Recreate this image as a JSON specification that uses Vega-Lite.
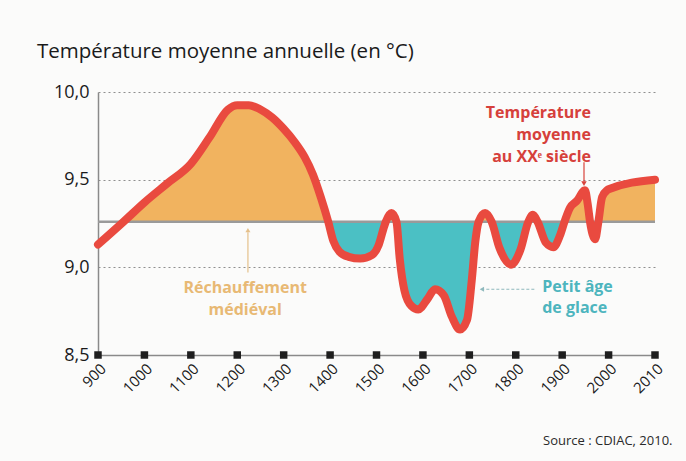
{
  "$schema": "https://vega.github.io/schema/vega-lite/v6.json",
  "width": 557,
  "height": 263,
  "autosize": {"type": "none"},
  "padding": {"left": 98, "top": 92, "right": 31, "bottom": 106},
  "background": "#fbfbfa",
  "title": {
    "text": "Température moyenne annuelle (en °C)",
    "anchor": "start",
    "frame": "group",
    "dx": -61,
    "offset": 21,
    "font": "Open Sans",
    "fontSize": 20.5,
    "fontWeight": "normal",
    "color": "#1a1a1a"
  },
  "config": {
    "view": {"stroke": null},
    "font": "Open Sans"
  },
  "datasets": {
    "curve": [
      {"year": 900, "temp": 9.13}, {"year": 955, "temp": 9.26}, {"year": 1000, "temp": 9.37},
      {"year": 1050, "temp": 9.48}, {"year": 1100, "temp": 9.59}, {"year": 1140, "temp": 9.74},
      {"year": 1180, "temp": 9.9}, {"year": 1200, "temp": 9.925}, {"year": 1225, "temp": 9.925},
      {"year": 1250, "temp": 9.9}, {"year": 1275, "temp": 9.855}, {"year": 1300, "temp": 9.79},
      {"year": 1325, "temp": 9.71}, {"year": 1345, "temp": 9.63}, {"year": 1363, "temp": 9.53},
      {"year": 1380, "temp": 9.4}, {"year": 1396, "temp": 9.26}, {"year": 1407, "temp": 9.15},
      {"year": 1420, "temp": 9.09}, {"year": 1440, "temp": 9.06}, {"year": 1465, "temp": 9.05},
      {"year": 1490, "temp": 9.07}, {"year": 1505, "temp": 9.13}, {"year": 1515, "temp": 9.22},
      {"year": 1520, "temp": 9.26}, {"year": 1532, "temp": 9.31}, {"year": 1543, "temp": 9.26},
      {"year": 1550, "temp": 9.05}, {"year": 1560, "temp": 8.87}, {"year": 1575, "temp": 8.78},
      {"year": 1590, "temp": 8.76}, {"year": 1610, "temp": 8.82}, {"year": 1626, "temp": 8.875},
      {"year": 1645, "temp": 8.84}, {"year": 1662, "temp": 8.72}, {"year": 1680, "temp": 8.645},
      {"year": 1695, "temp": 8.7}, {"year": 1705, "temp": 8.92}, {"year": 1713, "temp": 9.15},
      {"year": 1720, "temp": 9.26}, {"year": 1734, "temp": 9.31}, {"year": 1748, "temp": 9.26},
      {"year": 1765, "temp": 9.11}, {"year": 1790, "temp": 9.015}, {"year": 1810, "temp": 9.1},
      {"year": 1827, "temp": 9.26}, {"year": 1837, "temp": 9.3}, {"year": 1847, "temp": 9.26},
      {"year": 1865, "temp": 9.14}, {"year": 1881, "temp": 9.115}, {"year": 1895, "temp": 9.18},
      {"year": 1905, "temp": 9.26}, {"year": 1917, "temp": 9.34}, {"year": 1932, "temp": 9.38},
      {"year": 1949, "temp": 9.44}, {"year": 1955, "temp": 9.36}, {"year": 1960, "temp": 9.26},
      {"year": 1971, "temp": 9.16}, {"year": 1978, "temp": 9.26}, {"year": 1986, "temp": 9.4},
      {"year": 1997, "temp": 9.44}, {"year": 2000, "temp": 9.445}, {"year": 2010, "temp": 9.5}
    ],
    "fill": [
      {"seg": 1, "phase": "chaud", "year": 955, "temp": 9.26}, {"seg": 1, "phase": "chaud", "year": 1000, "temp": 9.37},
      {"seg": 1, "phase": "chaud", "year": 1050, "temp": 9.48}, {"seg": 1, "phase": "chaud", "year": 1100, "temp": 9.59},
      {"seg": 1, "phase": "chaud", "year": 1140, "temp": 9.74}, {"seg": 1, "phase": "chaud", "year": 1180, "temp": 9.9},
      {"seg": 1, "phase": "chaud", "year": 1200, "temp": 9.925}, {"seg": 1, "phase": "chaud", "year": 1225, "temp": 9.925},
      {"seg": 1, "phase": "chaud", "year": 1250, "temp": 9.9}, {"seg": 1, "phase": "chaud", "year": 1275, "temp": 9.855},
      {"seg": 1, "phase": "chaud", "year": 1300, "temp": 9.79}, {"seg": 1, "phase": "chaud", "year": 1325, "temp": 9.71},
      {"seg": 1, "phase": "chaud", "year": 1345, "temp": 9.63}, {"seg": 1, "phase": "chaud", "year": 1363, "temp": 9.53},
      {"seg": 1, "phase": "chaud", "year": 1380, "temp": 9.4}, {"seg": 1, "phase": "chaud", "year": 1396, "temp": 9.26},
      {"seg": 2, "phase": "froid", "year": 1396, "temp": 9.26}, {"seg": 2, "phase": "froid", "year": 1407, "temp": 9.15},
      {"seg": 2, "phase": "froid", "year": 1420, "temp": 9.09}, {"seg": 2, "phase": "froid", "year": 1440, "temp": 9.06},
      {"seg": 2, "phase": "froid", "year": 1465, "temp": 9.05}, {"seg": 2, "phase": "froid", "year": 1490, "temp": 9.07},
      {"seg": 2, "phase": "froid", "year": 1505, "temp": 9.13}, {"seg": 2, "phase": "froid", "year": 1515, "temp": 9.22},
      {"seg": 2, "phase": "froid", "year": 1520, "temp": 9.26},
      {"seg": 3, "phase": "chaud", "year": 1520, "temp": 9.26}, {"seg": 3, "phase": "chaud", "year": 1532, "temp": 9.31},
      {"seg": 3, "phase": "chaud", "year": 1543, "temp": 9.26},
      {"seg": 4, "phase": "froid", "year": 1543, "temp": 9.26}, {"seg": 4, "phase": "froid", "year": 1550, "temp": 9.05},
      {"seg": 4, "phase": "froid", "year": 1560, "temp": 8.87}, {"seg": 4, "phase": "froid", "year": 1575, "temp": 8.78},
      {"seg": 4, "phase": "froid", "year": 1590, "temp": 8.76}, {"seg": 4, "phase": "froid", "year": 1610, "temp": 8.82},
      {"seg": 4, "phase": "froid", "year": 1626, "temp": 8.875}, {"seg": 4, "phase": "froid", "year": 1645, "temp": 8.84},
      {"seg": 4, "phase": "froid", "year": 1662, "temp": 8.72}, {"seg": 4, "phase": "froid", "year": 1680, "temp": 8.645},
      {"seg": 4, "phase": "froid", "year": 1695, "temp": 8.7}, {"seg": 4, "phase": "froid", "year": 1705, "temp": 8.92},
      {"seg": 4, "phase": "froid", "year": 1713, "temp": 9.15}, {"seg": 4, "phase": "froid", "year": 1720, "temp": 9.26},
      {"seg": 5, "phase": "chaud", "year": 1720, "temp": 9.26}, {"seg": 5, "phase": "chaud", "year": 1734, "temp": 9.31},
      {"seg": 5, "phase": "chaud", "year": 1748, "temp": 9.26},
      {"seg": 6, "phase": "froid", "year": 1748, "temp": 9.26}, {"seg": 6, "phase": "froid", "year": 1765, "temp": 9.11},
      {"seg": 6, "phase": "froid", "year": 1790, "temp": 9.015}, {"seg": 6, "phase": "froid", "year": 1810, "temp": 9.1},
      {"seg": 6, "phase": "froid", "year": 1827, "temp": 9.26},
      {"seg": 7, "phase": "chaud", "year": 1827, "temp": 9.26}, {"seg": 7, "phase": "chaud", "year": 1837, "temp": 9.3},
      {"seg": 7, "phase": "chaud", "year": 1847, "temp": 9.26},
      {"seg": 8, "phase": "froid", "year": 1847, "temp": 9.26}, {"seg": 8, "phase": "froid", "year": 1865, "temp": 9.14},
      {"seg": 8, "phase": "froid", "year": 1881, "temp": 9.115}, {"seg": 8, "phase": "froid", "year": 1895, "temp": 9.18},
      {"seg": 8, "phase": "froid", "year": 1905, "temp": 9.26},
      {"seg": 9, "phase": "chaud", "year": 1905, "temp": 9.26}, {"seg": 9, "phase": "chaud", "year": 1917, "temp": 9.34},
      {"seg": 9, "phase": "chaud", "year": 1932, "temp": 9.38}, {"seg": 9, "phase": "chaud", "year": 1949, "temp": 9.44},
      {"seg": 9, "phase": "chaud", "year": 1955, "temp": 9.36}, {"seg": 9, "phase": "chaud", "year": 1960, "temp": 9.26},
      {"seg": 10, "phase": "froid", "year": 1960, "temp": 9.26}, {"seg": 10, "phase": "froid", "year": 1971, "temp": 9.16},
      {"seg": 10, "phase": "froid", "year": 1978, "temp": 9.26},
      {"seg": 11, "phase": "chaud", "year": 1978, "temp": 9.26}, {"seg": 11, "phase": "chaud", "year": 1986, "temp": 9.4},
      {"seg": 11, "phase": "chaud", "year": 1997, "temp": 9.44}, {"seg": 11, "phase": "chaud", "year": 2000, "temp": 9.445},
      {"seg": 11, "phase": "chaud", "year": 2010, "temp": 9.5}
    ],
    "years": [
      {"year": 900, "temp": 8.5}, {"year": 1000, "temp": 8.5}, {"year": 1100, "temp": 8.5}, {"year": 1200, "temp": 8.5},
      {"year": 1300, "temp": 8.5}, {"year": 1400, "temp": 8.5}, {"year": 1500, "temp": 8.5}, {"year": 1600, "temp": 8.5},
      {"year": 1700, "temp": 8.5}, {"year": 1800, "temp": 8.5}, {"year": 1900, "temp": 8.5}, {"year": 2000, "temp": 8.5},
      {"year": 2010, "temp": 8.5}
    ],
    "mean": [{"temp": 9.26}],
    "labels": [
      {"label": "Température", "year": 1962, "temp": 9.879, "group": "rouge"},
      {"label": "moyenne", "year": 1962, "temp": 9.753, "group": "rouge"},
      {"label": "au XXᵉ siècle", "year": 1962, "temp": 9.628, "group": "rouge"},
      {"label": "Réchauffement", "year": 1217, "temp": 8.88, "group": "orange"},
      {"label": "médiéval", "year": 1217, "temp": 8.755, "group": "orange"},
      {"label": "Petit âge", "year": 1857, "temp": 8.89, "group": "bleu"},
      {"label": "de glace", "year": 1857, "temp": 8.77, "group": "bleu"}
    ],
    "arrows": [
      {"group": "rouge", "year": 1947, "year2": 1947, "temp": 9.6, "temp2": 9.49},
      {"group": "orange", "year": 1223, "year2": 1223, "temp": 8.97, "temp2": 9.2},
      {"group": "bleu", "year": 1840, "year2": 1732, "temp": 8.875, "temp2": 8.875}
    ],
    "heads": [
      {"group": "rouge", "year": 1947, "temp": 9.478},
      {"group": "orange", "year": 1223, "temp": 9.212},
      {"group": "bleu", "year": 1727, "temp": 8.875}
    ]
  },
  "encoding": {
    "x": {
      "field": "year",
      "type": "quantitative",
      "scale": {"domain": [900, 2000, 2010], "range": [0, 510.6, 557], "nice": false, "zero": false},
      "axis": {
        "values": [900, 1000, 1100, 1200, 1300, 1400, 1500, 1600, 1700, 1800, 1900, 2000, 2010],
        "format": "d",
        "labelAngle": -45,
        "labelPadding": 6,
        "labelFontSize": 15,
        "labelColor": "#1a1a1a",
        "labelFont": "Open Sans",
        "labelOverlap": false,
        "labelFlush": false,
        "ticks": false,
        "grid": false,
        "domainColor": "#8a8a8a",
        "domainWidth": 1.5,
        "title": "Source : CDIAC, 2010.",
        "titleFont": "Open Sans",
        "titleFontSize": 13,
        "titleFontWeight": "normal",
        "titleColor": "#2a2a2a",
        "titleAlign": "right",
        "titleBaseline": "alphabetic",
        "titleX": 574,
        "titleY": 89
      }
    },
    "y": {
      "field": "temp",
      "type": "quantitative",
      "scale": {"domain": [8.5, 10], "nice": false, "zero": false},
      "axis": {
        "values": [8.5, 9, 9.5, 10],
        "labelExpr": "replace(format(datum.value, '.1f'), '.', ',')",
        "labelFontSize": 18,
        "labelColor": "#1a1a1a",
        "labelFont": "Open Sans",
        "labelPadding": 9,
        "ticks": false,
        "grid": true,
        "gridDash": [2, 3],
        "gridColor": "#8f8f8f",
        "gridWidth": 1,
        "domainColor": "#8a8a8a",
        "domainWidth": 1.5,
        "title": null
      }
    }
  },
  "layer": [
    {
      "data": {"name": "fill"},
      "mark": {"type": "area", "interpolate": "monotone"},
      "encoding": {
        "y2": {"datum": 9.26},
        "detail": {"field": "seg", "type": "nominal"},
        "color": {
          "field": "phase",
          "type": "nominal",
          "scale": {"domain": ["chaud", "froid"], "range": ["#f1b35f", "#4bc0c4"]},
          "legend": null
        }
      }
    },
    {
      "data": {"name": "mean"},
      "mark": {"type": "rule", "color": "#9a9a9a", "strokeWidth": 2.5},
      "encoding": {"x": null}
    },
    {
      "data": {"name": "curve"},
      "mark": {"type": "line", "interpolate": "monotone", "color": "#e94a3f", "strokeWidth": 8, "strokeCap": "round", "strokeJoin": "round"},
      "encoding": {}
    },
    {
      "data": {"name": "arrows"},
      "transform": [{"filter": "datum.group === 'rouge'"}],
      "mark": {"type": "rule", "color": "#d8433c", "strokeWidth": 1.2},
      "encoding": {"x2": {"field": "year2"}, "y2": {"field": "temp2"}}
    },
    {
      "data": {"name": "arrows"},
      "transform": [{"filter": "datum.group === 'orange'"}],
      "mark": {"type": "rule", "color": "#e5c08a", "strokeWidth": 1.2},
      "encoding": {"x2": {"field": "year2"}, "y2": {"field": "temp2"}}
    },
    {
      "data": {"name": "arrows"},
      "transform": [{"filter": "datum.group === 'bleu'"}],
      "mark": {"type": "rule", "color": "#8fb9bd", "strokeWidth": 1.2, "strokeDash": [3, 2]},
      "encoding": {"x2": {"field": "year2"}, "y2": {"field": "temp2"}}
    },
    {
      "data": {"name": "heads"},
      "transform": [{"filter": "datum.group === 'rouge'"}],
      "mark": {"type": "point", "shape": "triangle-down", "filled": true, "size": 30, "color": "#d8433c", "opacity": 1},
      "encoding": {}
    },
    {
      "data": {"name": "heads"},
      "transform": [{"filter": "datum.group === 'orange'"}],
      "mark": {"type": "point", "shape": "triangle-up", "filled": true, "size": 25, "color": "#e5c08a", "opacity": 1},
      "encoding": {}
    },
    {
      "data": {"name": "heads"},
      "transform": [{"filter": "datum.group === 'bleu'"}],
      "mark": {"type": "point", "shape": "triangle-left", "filled": true, "size": 25, "color": "#8fb9bd", "opacity": 1},
      "encoding": {}
    },
    {
      "data": {"name": "labels"},
      "transform": [{"filter": "datum.group === 'rouge'"}],
      "mark": {"type": "text", "align": "right", "baseline": "middle", "font": "Open Sans", "fontSize": 16, "fontWeight": "bold", "color": "#d6403b"},
      "encoding": {"text": {"field": "label"}}
    },
    {
      "data": {"name": "labels"},
      "transform": [{"filter": "datum.group === 'orange'"}],
      "mark": {"type": "text", "align": "center", "baseline": "middle", "font": "Open Sans", "fontSize": 16, "fontWeight": "bold", "color": "#e8b974"},
      "encoding": {"text": {"field": "label"}}
    },
    {
      "data": {"name": "labels"},
      "transform": [{"filter": "datum.group === 'bleu'"}],
      "mark": {"type": "text", "align": "left", "baseline": "middle", "font": "Open Sans", "fontSize": 16, "fontWeight": "bold", "color": "#4db5be"},
      "encoding": {"text": {"field": "label"}}
    },
    {
      "data": {"name": "years"},
      "mark": {"type": "point", "shape": "square", "filled": true, "size": 56, "color": "#1e1e1e", "opacity": 1},
      "encoding": {}
    }
  ]
}
